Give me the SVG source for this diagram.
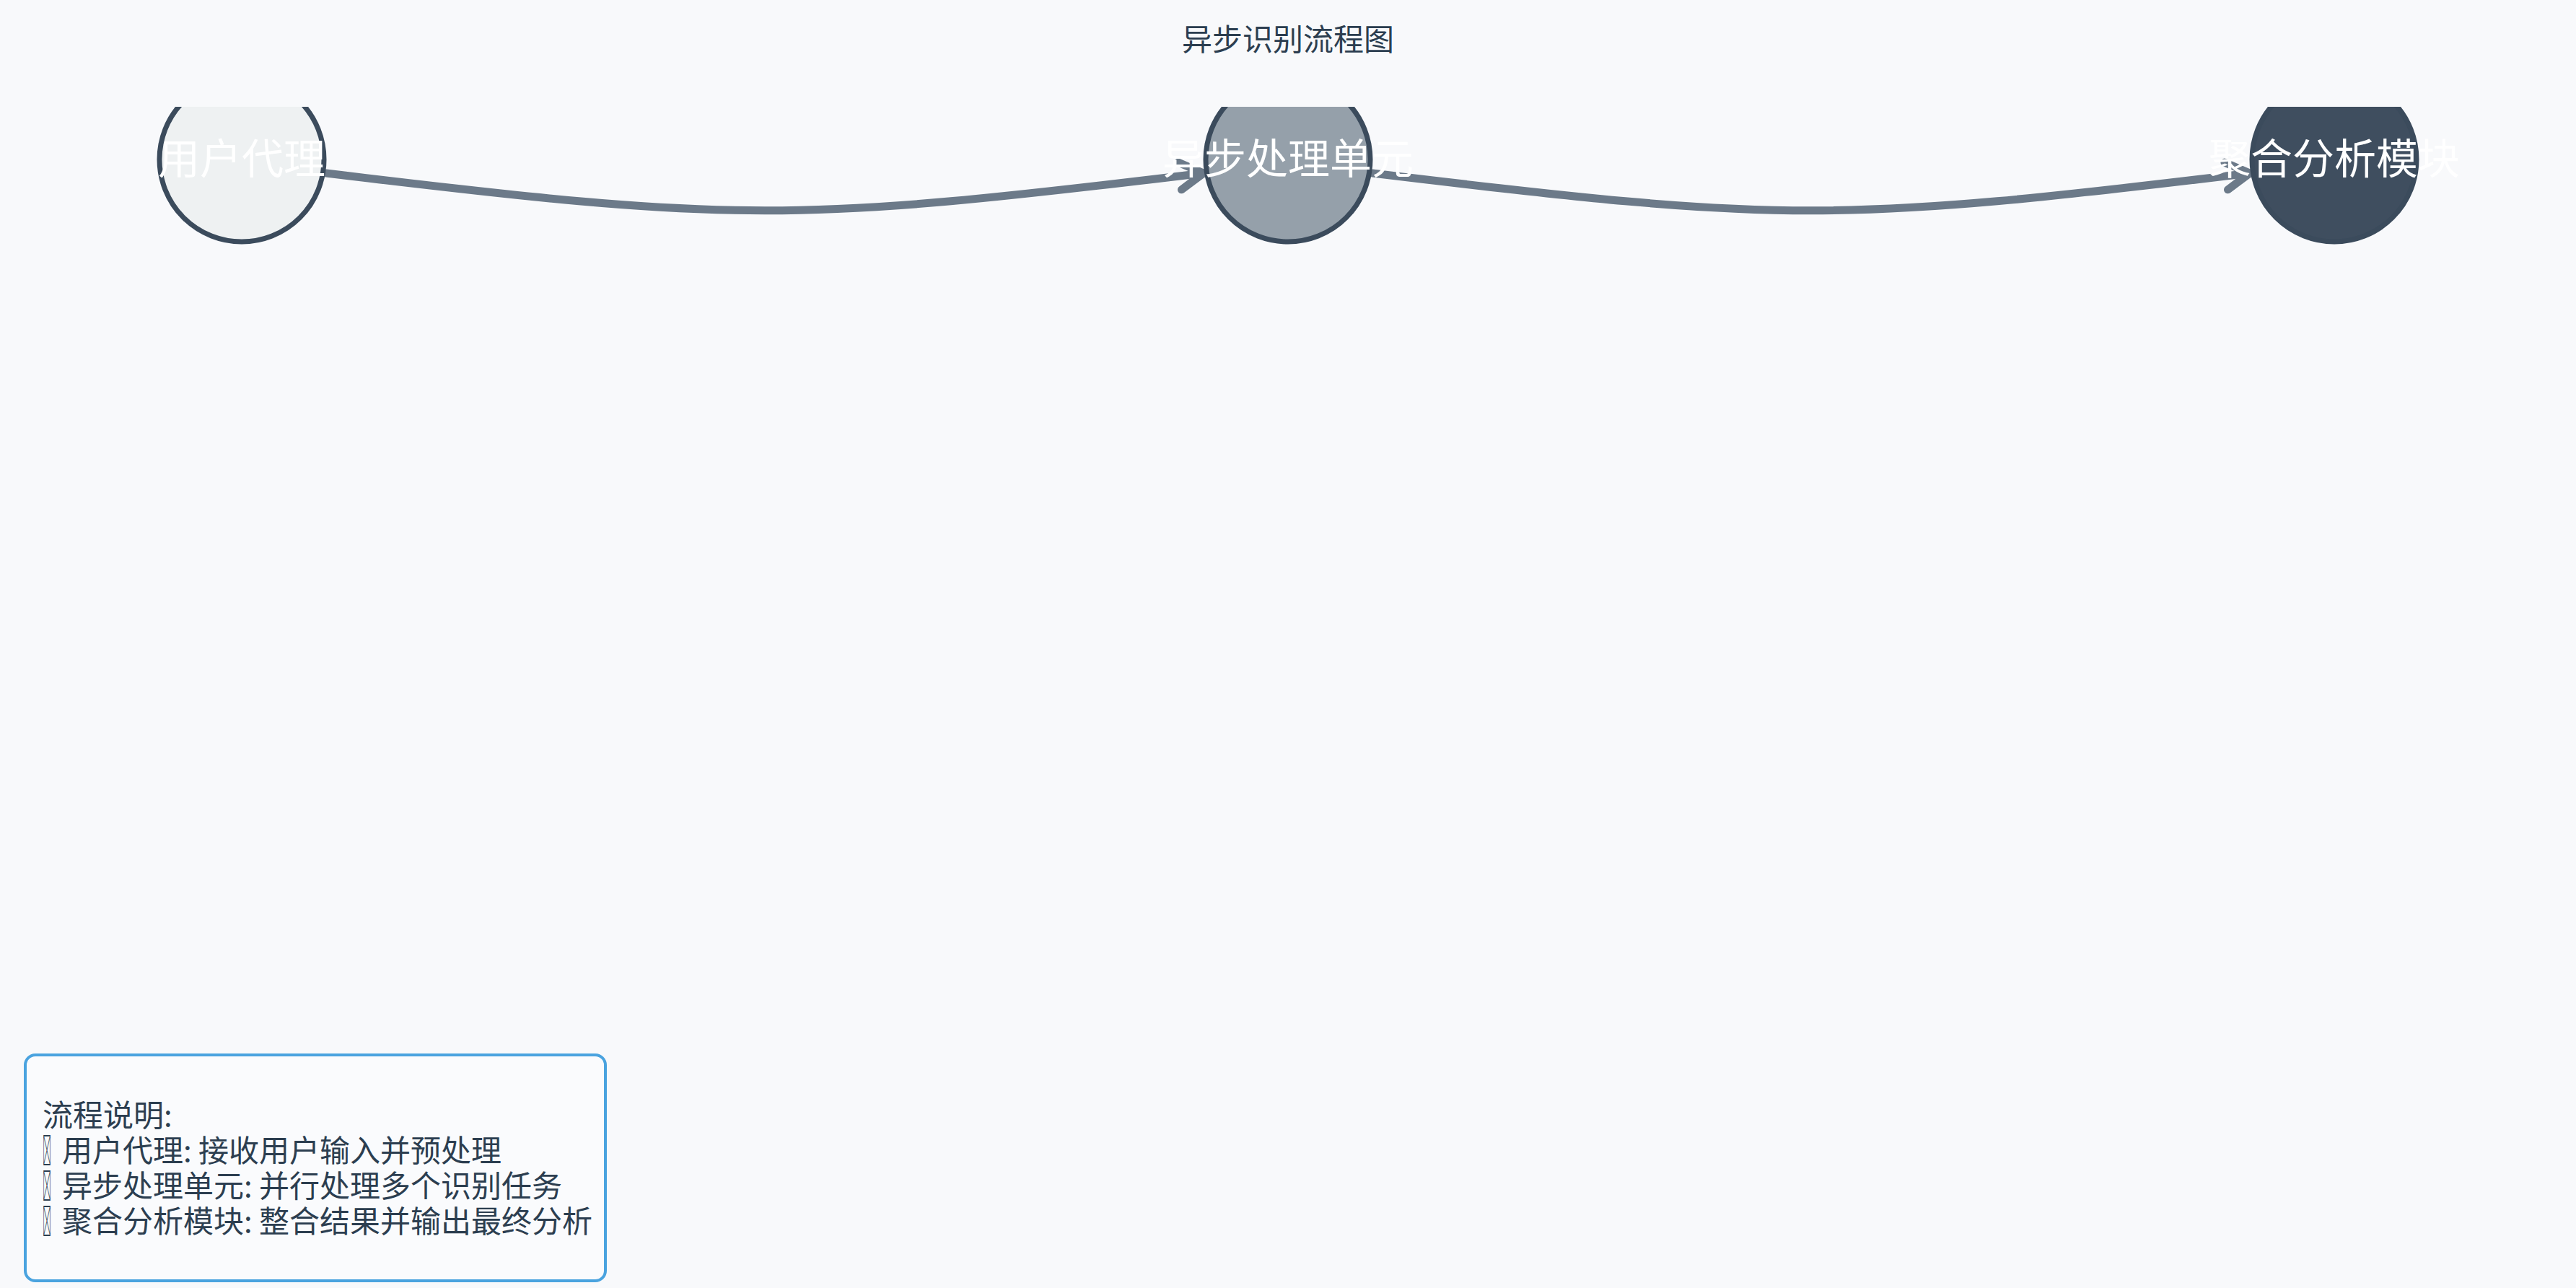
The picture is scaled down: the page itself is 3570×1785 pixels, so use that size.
<svg xmlns="http://www.w3.org/2000/svg" width="3570" height="1785" viewBox="0 0 3570 1785">
<style>
.title{font-family:"Noto Sans CJK SC","Noto Sans",sans-serif;font-size:42px;fill:#2c3e50;text-anchor:middle}
.node circle{stroke:#3b4b5c;stroke-width:7}
.label{font-family:"Noto Sans CJK SC","Noto Sans",sans-serif;font-size:58px;fill:#ffffff;text-anchor:middle}
.edge{fill:none;stroke:#6c7a89;stroke-width:11;stroke-linecap:round}
.legend-box{fill:#fafbfd;stroke:#4aa3df;stroke-width:4}
.legend-text{font-family:"Noto Sans CJK SC","Noto Sans",sans-serif;font-size:42px;fill:#2c3e50}
</style>
<defs>
<clipPath id="clipTop"><rect x="0" y="148" width="3570" height="1637"/></clipPath>
<marker id="arrow" markerUnits="userSpaceOnUse" markerWidth="80" markerHeight="80" viewBox="-50 -40 60 80" refX="0" refY="0" orient="auto">
<path d="M-33,-19 L0,0 L-33,19" fill="none" stroke="#6c7a89" stroke-width="11" stroke-linecap="round" stroke-linejoin="round"/>
</marker>
</defs>
<rect x="0" y="0" width="3570" height="1785" fill="#f8f9fb"/>
<text class="title" x="1785" y="70">异步识别流程图</text>
<g id="connectors">
<path class="edge" d="M452,240 C1022,309 1098,309 1668,240" marker-end="url(#arrow)"/>
<path class="edge" d="M1902,240 C2472,309 2548,309 3118,240" marker-end="url(#arrow)"/>
</g>
<g id="node-user" class="node">
<circle cx="335" cy="221" r="114" fill="#eef1f2" clip-path="url(#clipTop)"/>
<text class="label" x="335" y="241">用户代理</text>
</g>
<g id="node-async" class="node">
<circle cx="1785" cy="221" r="114" fill="#95a0aa" clip-path="url(#clipTop)"/>
<text class="label" x="1785" y="241">异步处理单元</text>
</g>
<g id="node-aggregate" class="node">
<circle cx="3235" cy="221" r="114" fill="#3f4e5f" clip-path="url(#clipTop)"/>
<text class="label" x="3235" y="241">聚合分析模块</text>
</g>
<g id="legend">
<rect class="legend-box" x="35" y="1462" width="804" height="313" rx="14"/>
<text class="legend-text" x="59" y="1561">流程说明:</text>
<text class="legend-text" x="59" y="1610"><tspan textLength="12" lengthAdjust="spacingAndGlyphs">&#xE000;</tspan><tspan x="86">用户代理: 接收用户输入并预处理</tspan></text>
<text class="legend-text" x="59" y="1659"><tspan textLength="12" lengthAdjust="spacingAndGlyphs">&#xE000;</tspan><tspan x="86">异步处理单元: 并行处理多个识别任务</tspan></text>
<text class="legend-text" x="59" y="1708"><tspan textLength="12" lengthAdjust="spacingAndGlyphs">&#xE000;</tspan><tspan x="86">聚合分析模块: 整合结果并输出最终分析</tspan></text>
</g>
</svg>
